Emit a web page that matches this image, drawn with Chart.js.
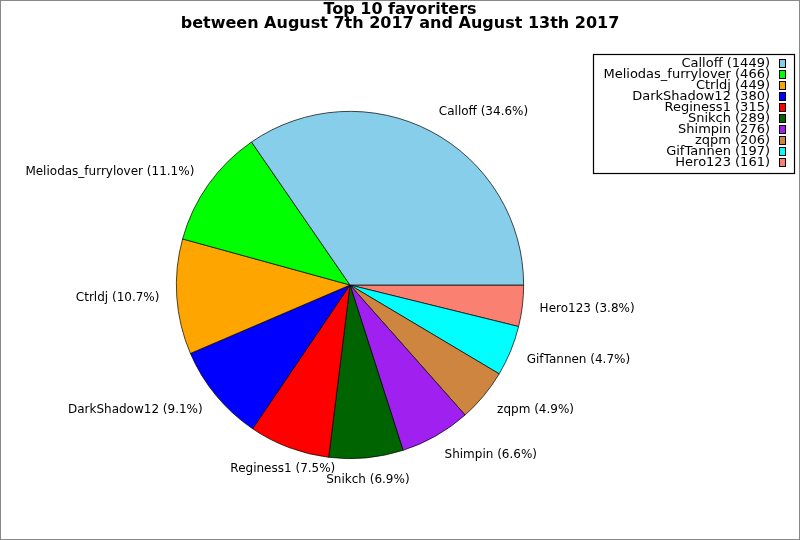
<!DOCTYPE html>
<html>
<head>
<meta charset="utf-8">
<script src="https://cdn.jsdelivr.net/npm/chart.js@4"></script>
<style>
  html, body { margin: 0; padding: 0; background: #fff; }
  #wrap { width: 800px; height: 540px; position: relative; }
</style>
</head>
<body>
<div id="wrap"><canvas id="myChart" width="800" height="540"></canvas></div>
<script>
var names = ["Calloff", "Meliodas_furrylover", "Ctrldj", "DarkShadow12", "Reginess1", "Snikch", "Shimpin", "zqpm", "GifTannen", "Hero123"];
var counts = [1449, 466, 449, 380, 315, 289, 276, 206, 197, 161];
var sliceColors = ["#87CEEB", "#00FF00", "#FFA500", "#0000FF", "#FF0000", "#006400", "#A020F0", "#CD853F", "#00FFFF", "#FA8072"];
var titleLines = ["Top 10 favoriters", "between August 7th 2017 and August 13th 2017"];

var total = counts.reduce(function (a, b) { return a + b; }, 0);

// matplotlib draws counter-clockwise from 3 o'clock, chart.js clockwise -> reverse
var revNames = names.slice().reverse();
var revCounts = counts.slice().reverse();
var revColors = sliceColors.slice().reverse();

var FONT = "'DejaVu Sans', sans-serif";

var extras = {
  id: "extras",
  beforeDraw: function (chart) {
    var ctx = chart.ctx;
    ctx.save();
    ctx.fillStyle = "#fff";
    ctx.fillRect(0, 0, chart.width, chart.height);
    ctx.restore();
  },
  afterDraw: function (chart) {
    var ctx = chart.ctx;
    ctx.save();

    // outer frame
    ctx.strokeStyle = "#888";
    ctx.lineWidth = 1;
    ctx.strokeRect(0.5, 0.5, chart.width - 1, chart.height - 1);

    // title
    ctx.fillStyle = "#000";
    ctx.font = "bold 16px " + FONT;
    ctx.textAlign = "center";
    ctx.textBaseline = "middle";
    ctx.fillText(titleLines[0], 400, 10);
    ctx.fillText(titleLines[1], 400, 24);

    // slice labels
    var meta = chart.getDatasetMeta(0);
    ctx.font = "12px " + FONT;
    meta.data.forEach(function (arc, i) {
      var mid = (arc.startAngle + arc.endAngle) / 2;
      var r = arc.outerRadius * 1.1;
      var c = Math.cos(mid), s = Math.sin(mid);
      var x = arc.x + c * r;
      var y = arc.y + s * (r + 5);
      var pct = (revCounts[i] / total * 100).toFixed(1);
      if (Math.abs(c) < 0.4) ctx.textAlign = "center";
      else ctx.textAlign = c > 0 ? "left" : "right";
      ctx.textBaseline = "middle";
      ctx.fillText(revNames[i] + " (" + pct + "%)", x, y);
    });

    // legend box
    var bx = 593.5, by = 54.5, bw = 201, bh = 119;
    ctx.fillStyle = "#fff";
    ctx.fillRect(bx, by, bw, bh);
    ctx.strokeStyle = "#000";
    ctx.lineWidth = 1.2;
    ctx.strokeRect(bx, by, bw, bh);
    ctx.font = "13px " + FONT;
    ctx.textAlign = "right";
    ctx.textBaseline = "middle";
    ctx.lineWidth = 1;
    for (var k = 0; k < names.length; k++) {
      var yy = 64 + k * 11;
      ctx.fillStyle = "#000";
      ctx.fillText(names[k] + " (" + counts[k] + ")", 770, yy);
      ctx.fillStyle = sliceColors[k];
      ctx.fillRect(779.5, yy - 4.5, 6, 8);
      ctx.strokeStyle = "#000";
      ctx.strokeRect(779.5, yy - 4.5, 6, 8);
    }
    ctx.restore();
  }
};

new Chart("myChart", {
  type: "pie",
  data: {
    labels: revNames,
    datasets: [{
      data: revCounts,
      backgroundColor: revColors,
      borderColor: "#000",
      borderWidth: 0.7
    }]
  },
  options: {
    responsive: false,
    animation: false,
    rotation: 90,
    layout: { padding: { left: 176, right: 276, top: 111, bottom: 81 } },
    plugins: {
      legend: { display: false },
      title: { display: false },
      tooltip: { enabled: false }
    }
  },
  plugins: [extras]
});
</script>
</body>
</html>
